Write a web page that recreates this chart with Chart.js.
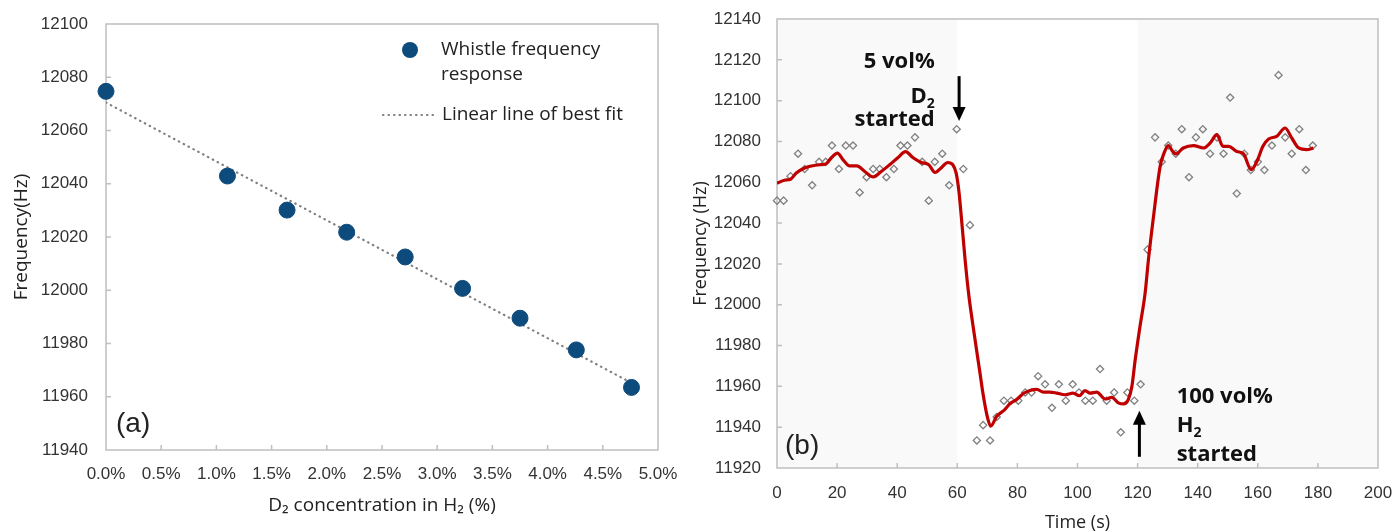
<!DOCTYPE html>
<html>
<head>
<meta charset="utf-8">
<script src="https://cdn.jsdelivr.net/npm/chart.js@4.4.1/dist/chart.umd.min.js"></script>
<style>
html, body { margin: 0; padding: 0; background: #fff; }
#wrapA { position: absolute; left: 0; top: 0; width: 680px; height: 532px; }
#wrapB { position: absolute; left: 680px; top: 0; width: 714px; height: 532px; }
</style>
</head>
<body>
<div id="wrapA"><canvas id="chartA"></canvas></div>
<div id="wrapB"><canvas id="chartB"></canvas></div>
<script>
// ---- (a) whistle frequency vs D2 concentration ----
const d2Conc = [0, 1.10, 1.64, 2.18, 2.71, 3.23, 3.75, 4.26, 4.76];
const whistleFreq = [12074.7, 12042.9, 12030.1, 12021.8, 12012.5, 12000.7, 11989.5, 11977.6, 11963.5];
const fitConc = [0, 4.76];
const fitFreq = [12070.5, 11965.2];

// ---- (b) frequency over time ----
const timeRaw = [0, 2.2, 4.5, 7.0, 9.2, 11.7, 14.0, 16.2, 18.3, 20.6, 22.9, 25.3, 27.5, 29.8, 32.0, 34.2, 36.4, 38.9,
  41.1, 43.4, 45.9, 48.3, 50.5, 52.5, 55.0, 57.3, 59.8, 62.0, 64.2, 66.5, 68.6, 70.9, 73.1, 75.5, 77.9, 80.3,
  82.6, 84.7, 86.9, 89.2, 91.5, 93.8, 96.1, 98.4, 100.5, 102.6, 105.1, 107.5, 109.7, 112.2, 114.4, 116.6, 118.9,
  121.0, 123.3, 125.8, 128.0, 130.2, 132.7, 134.7, 137.1, 139.4, 141.7, 144.1, 146.4, 148.6, 150.8, 153.0, 155.5,
  157.7, 160.0, 162.2, 164.7, 166.9, 169.1, 171.3, 173.8, 176.0, 178.3];
const freqRaw = [12051, 12051, 12063, 12074, 12066.5, 12058.5, 12070, 12070, 12078, 12066.5, 12078, 12078, 12055,
  12062.5, 12066.5, 12066.5, 12062.5, 12066.5, 12078, 12078, 12082, 12070, 12051, 12070, 12074, 12058.5, 12086,
  12066.5, 12039, 11933.5, 11941, 11933.5, 11945, 11953, 11953, 11953, 11957, 11957, 11965, 11961, 11949.5, 11961,
  11953, 11961, 11957, 11953, 11953, 11968.5, 11953, 11957, 11937.5, 11957, 11953, 11961, 12027, 12082, 12070,
  12078, 12074, 12086, 12062.5, 12082, 12086, 12074, 12082, 12074, 12101.5, 12054.5, 12074, 12066, 12070, 12066,
  12078, 12112.5, 12082, 12074, 12086, 12066, 12078];
const timeSmooth = [0, 2.5, 4.5, 6.4, 9.2, 11.5, 14.2, 16.2, 18.1, 20.1, 22.0, 24.2, 26.6, 29.2, 32.0, 34.7, 37.5,
  40.2, 42.8, 45.3, 48.0, 50.5, 52.6, 54.6, 56.8, 58.5, 59.6, 60.5, 61.4, 62.6, 63.8, 65.3, 67.5, 68.6, 70.0, 71.1,
  73.1, 75.8, 77.5, 79.7, 82.0, 84.2, 86.5, 88.6, 90.8, 93.1, 95.8, 98.5, 100.6, 102.5, 104.2, 106.4, 109.2, 111.4,
  113.6, 115.3, 116.9, 118.1, 119.2, 120.8, 122.5, 123.6, 125.3, 127.5, 128.8, 130.2, 131.7, 132.8, 135.2, 138.6,
  141.9, 144.1, 146.4, 148.4, 150.3, 153.0, 155.2, 157.8, 159.7, 161.7, 163.6, 166.3, 169.1, 171.3, 173.6, 176.3, 178.5];
const freqSmooth = [12059.5, 12061, 12061.5, 12064.5, 12067, 12068, 12068.6, 12069, 12072, 12074.3, 12071, 12068,
  12068, 12065.3, 12062.6, 12065.3, 12068.6, 12072, 12075, 12072, 12069.7, 12068.6, 12064.8, 12067, 12069.7,
  12068.6, 12064.6, 12056, 12042, 12022, 12005, 11989, 11967, 11956, 11945, 11940.5, 11945.3, 11948.6, 11951.5,
  11953.5, 11956.5, 11958, 11958.5, 11957.2, 11957.2, 11956.7, 11955.9, 11956.7, 11955.4, 11957.9, 11956.7,
  11957.2, 11953.8, 11954.6, 11951.9, 11951.4, 11953.5, 11960, 11973, 11989.4, 12005.7, 12022, 12043.3, 12067.8,
  12074.3, 12078, 12075.1, 12073.9, 12076.8, 12078, 12076.8, 12079.2, 12083.3, 12077.6, 12077.6, 12075.1, 12074,
  12066.2, 12070.2, 12077.6, 12081.2, 12082.5, 12086.6, 12081.7, 12076.8, 12076, 12076.8];
const shadedRanges = [[0, 60], [120, 200]];

const tickFont = { family: "'Liberation Sans', Arial, sans-serif", size: 17 };
const titleFamily = "'Open Sans', 'Liberation Sans', sans-serif";
const tickColor = '#333';
const frameColor = '#bfbfbf';

function toXY(xs, ys) {
  return xs.map((x, i) => ({ x: x, y: ys[i] }));
}

// fixed scale size, no extra label padding from the scale itself
function fixSize(w, h) {
  return s => {
    if (w) s.width = w;
    if (h) s.height = h;
    s.paddingLeft = 0; s.paddingRight = 0; s.paddingTop = 0; s.paddingBottom = 0;
  };
}

// text with subscript parts: [[text, isSub], ...]
function drawSubText(ctx, parts, x, y, size, weight, align) {
  const mainFont = weight + ' ' + size + 'px ' + titleFamily;
  const subFont = weight + ' ' + Math.round(size * 0.62) + 'px ' + titleFamily;
  let total = 0;
  parts.forEach(p => { ctx.font = p[1] ? subFont : mainFont; total += ctx.measureText(p[0]).width; });
  let cx = align === 'right' ? x - total : x;
  ctx.textAlign = 'left';
  ctx.textBaseline = 'middle';
  parts.forEach(p => {
    ctx.font = p[1] ? subFont : mainFont;
    ctx.fillText(p[0], cx, y + (p[1] ? size * 0.32 : 0));
    cx += ctx.measureText(p[0]).width;
  });
}

function drawArrow(ctx, x, y1, y2) {
  const dir = y2 > y1 ? 1 : -1;
  ctx.save();
  ctx.strokeStyle = '#000';
  ctx.fillStyle = '#000';
  ctx.lineWidth = 3;
  ctx.beginPath();
  ctx.moveTo(x, y1);
  ctx.lineTo(x, y2 - dir * 12);
  ctx.stroke();
  ctx.beginPath();
  ctx.moveTo(x - 6.5, y2 - dir * 14);
  ctx.lineTo(x + 6.5, y2 - dir * 14);
  ctx.lineTo(x, y2);
  ctx.closePath();
  ctx.fill();
  ctx.restore();
}

// frame, inward ticks and optional shaded bands
const frameAndTicks = {
  id: 'frameAndTicks',
  beforeDatasetsDraw(chart, args, opts) {
    const { ctx, chartArea: a, scales } = chart;
    ctx.save();
    (opts.shade || []).forEach(r => {
      const x1 = scales.x.getPixelForValue(r[0]);
      const x2 = scales.x.getPixelForValue(r[1]);
      ctx.fillStyle = '#f9f9f9';
      ctx.fillRect(x1, a.top, x2 - x1, a.bottom - a.top);
    });
    ctx.strokeStyle = frameColor;
    ctx.lineWidth = 1.5;
    ctx.strokeRect(a.left, a.top, a.right - a.left, a.bottom - a.top);
    ctx.beginPath();
    scales.x.ticks.forEach(t => {
      const px = scales.x.getPixelForValue(t.value);
      if (px > a.left + 2 && px < a.right - 2) { ctx.moveTo(px, a.bottom); ctx.lineTo(px, a.bottom - 5); }
    });
    scales.y.ticks.forEach(t => {
      const py = scales.y.getPixelForValue(t.value);
      if (py > a.top + 2 && py < a.bottom - 2) { ctx.moveTo(a.left, py); ctx.lineTo(a.left + 5, py); }
    });
    ctx.stroke();
    ctx.restore();
  }
};

const annotA = {
  id: 'annotA',
  afterDatasetsDraw(chart) {
    const { ctx, chartArea: a } = chart;
    ctx.save();
    // legend
    ctx.fillStyle = '#0e4b7d';
    ctx.beginPath();
    ctx.arc(410, 50, 8, 0, Math.PI * 2);
    ctx.fill();
    ctx.fillStyle = '#222';
    ctx.font = '19px ' + titleFamily;
    ctx.textAlign = 'left';
    ctx.textBaseline = 'middle';
    ctx.fillText('Whistle frequency', 441, 50);
    ctx.fillText('response', 441, 75);
    ctx.fillText('Linear line of best fit', 442, 115);
    ctx.strokeStyle = '#7f7f7f';
    ctx.lineWidth = 2.2;
    ctx.lineCap = 'round';
    ctx.setLineDash([0.5, 5]);
    ctx.beginPath();
    ctx.moveTo(383, 115);
    ctx.lineTo(433, 115);
    ctx.stroke();
    ctx.setLineDash([]);
    // panel label
    ctx.fillStyle = '#222';
    ctx.font = '28px ' + tickFont.family;
    ctx.fillText('(a)', a.left + 10, a.bottom - 26);
    ctx.restore();
  }
};

const annotB = {
  id: 'annotB',
  afterDatasetsDraw(chart) {
    const { ctx, chartArea: a, scales } = chart;
    const xs = scales.x, ys = scales.y;
    ctx.save();
    ctx.fillStyle = '#111';
    const xr = xs.getPixelForValue(52.5);
    drawSubText(ctx, [['5 vol%', false]], xr, ys.getPixelForValue(12119), 22, 'bold', 'right');
    drawSubText(ctx, [['D', false], ['2', true]], xr, ys.getPixelForValue(12102), 22, 'bold', 'right');
    drawSubText(ctx, [['started', false]], xr, ys.getPixelForValue(12090.5), 22, 'bold', 'right');
    const xl = xs.getPixelForValue(133);
    drawSubText(ctx, [['100 vol%', false]], xl, ys.getPixelForValue(11955), 22, 'bold', 'left');
    drawSubText(ctx, [['H', false], ['2', true]], xl, ys.getPixelForValue(11940.5), 22, 'bold', 'left');
    drawSubText(ctx, [['started', false]], xl, ys.getPixelForValue(11926.5), 22, 'bold', 'left');
    drawArrow(ctx, xs.getPixelForValue(60.6), ys.getPixelForValue(12112), ys.getPixelForValue(12090));
    drawArrow(ctx, xs.getPixelForValue(120.6), ys.getPixelForValue(11925.5), ys.getPixelForValue(11948));
    ctx.fillStyle = '#222';
    ctx.font = '28px ' + tickFont.family;
    ctx.textAlign = 'left';
    ctx.textBaseline = 'middle';
    ctx.fillText('(b)', a.left + 8, a.bottom - 22);
    ctx.restore();
  }
};

Chart.defaults.animation = false;

new Chart(document.getElementById('chartA'), {
  type: 'scatter',
  data: {
    datasets: [{
      label: 'Whistle frequency response',
      data: toXY(d2Conc, whistleFreq),
      backgroundColor: '#0e4b7d',
      borderColor: '#0e4b7d',
      pointRadius: 8,
      clip: false
    }, {
      label: 'Linear line of best fit',
      data: toXY(fitConc, fitFreq),
      showLine: true,
      pointRadius: 0,
      borderColor: '#7f7f7f',
      borderWidth: 2.2,
      borderDash: [0.5, 5],
      borderCapStyle: 'round'
    }]
  },
  options: {
    responsive: true,
    maintainAspectRatio: false,
    layout: { padding: { left: 0, top: 24, right: 22, bottom: 0 } },
    plugins: {
      legend: { display: false },
      tooltip: { enabled: false },
      frameAndTicks: {}
    },
    scales: {
      x: {
        type: 'linear', min: 0, max: 5,
        grid: { display: false, drawTicks: false },
        border: { display: false },
        ticks: { stepSize: 0.5, padding: 14, color: tickColor, font: tickFont,
          callback: v => v.toFixed(1) + '%' },
        title: { display: true, text: 'D\u2082 concentration in H\u2082 (%)', color: '#222',
          font: { family: titleFamily, size: 19 }, padding: { top: 0, bottom: 15 } },
        afterFit: fixSize(0, 82)
      },
      y: {
        min: 11940, max: 12100,
        grid: { display: false, drawTicks: false },
        border: { display: false },
        ticks: { stepSize: 20, padding: 18, color: tickColor, font: tickFont, callback: v => String(v) },
        title: { display: true, text: 'Frequency(Hz)', color: '#222',
          font: { family: titleFamily, size: 19 }, padding: { top: 10, bottom: 0 } },
        afterFit: fixSize(106, 0)
      }
    }
  },
  plugins: [frameAndTicks, annotA]
});

new Chart(document.getElementById('chartB'), {
  type: 'scatter',
  data: {
    datasets: [{
      label: 'Smoothed',
      data: toXY(timeSmooth, freqSmooth),
      showLine: true,
      pointRadius: 0,
      borderColor: '#c00000',
      borderWidth: 3.2,
      cubicInterpolationMode: 'monotone'
    }, {
      label: 'Measured',
      data: toXY(timeRaw, freqRaw),
      pointStyle: 'rectRot',
      pointRadius: 3.6,
      borderWidth: 1.3,
      borderColor: '#808080',
      backgroundColor: 'rgba(255,255,255,0)',
      clip: false
    }]
  },
  options: {
    responsive: true,
    maintainAspectRatio: false,
    layout: { padding: { left: 0, top: 19, right: 16, bottom: 0 } },
    plugins: {
      legend: { display: false },
      tooltip: { enabled: false },
      frameAndTicks: { shade: shadedRanges }
    },
    scales: {
      x: {
        type: 'linear', min: 0, max: 200,
        grid: { display: false, drawTicks: false },
        border: { display: false },
        ticks: { stepSize: 20, padding: 15, color: tickColor, font: tickFont, callback: v => String(v) },
        title: { display: true, text: 'Time (s)', color: '#222',
          font: { family: titleFamily, size: 18, lineHeight: 1 }, padding: { top: 0, bottom: 0 } },
        afterFit: fixSize(0, 64)
      },
      y: {
        min: 11920, max: 12140,
        grid: { display: false, drawTicks: false },
        border: { display: false },
        ticks: { stepSize: 20, padding: 16, color: tickColor, font: tickFont, callback: v => String(v) },
        title: { display: true, text: 'Frequency (Hz)', color: '#222',
          font: { family: titleFamily, size: 18 }, padding: { top: 10, bottom: 0 } },
        afterFit: fixSize(97, 0)
      }
    }
  },
  plugins: [frameAndTicks, annotB]
});
</script>
</body>
</html>
